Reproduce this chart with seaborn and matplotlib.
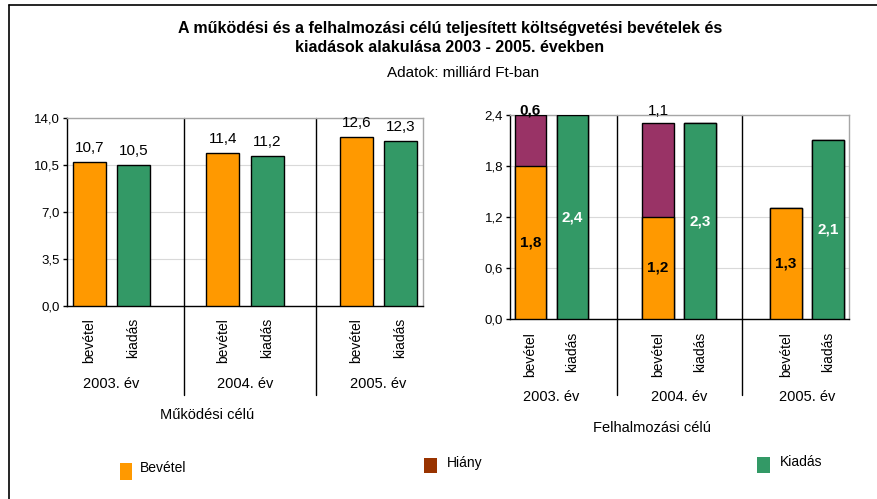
import matplotlib
matplotlib.use("Agg")
import matplotlib.pyplot as plt
import matplotlib.transforms as mtransforms
from matplotlib.patches import Rectangle
from matplotlib.lines import Line2D
import pandas as pd
import seaborn as sns

# ── Data ───────────────────────────────────────────────────────────────────────
YEARS = ["2003. év", "2004. év", "2005. év"]
TYPES = ["bevétel", "kiadás"]

MUK_BEVETEL = [10.7, 11.4, 12.6]
MUK_KIADAS  = [10.5, 11.2, 12.3]

FEL_BEVETEL = [1.8, 1.2, 1.3]
FEL_HIANY   = [0.6, 1.1, 0.0]
FEL_KIADAS  = [2.4, 2.3, 2.1]

LEFT_TICKS  = [0.0, 3.5, 7.0, 10.5, 14.0]
RIGHT_TICKS = [0.0, 0.6, 1.2, 1.8, 2.4]

TITLE    = ("A működési és a felhalmozási célú teljesített költségvetési bevételek és\n"
            "kiadások alakulása 2003 - 2005. években")
SUBTITLE = "Adatok: milliárd Ft-ban"

# ── Style ──────────────────────────────────────────────────────────────────────
ORANGE = "#FF9900"
GREEN  = "#339966"
PURPLE = "#993366"
BROWN  = "#993300"
GRID   = "#D9D9D9"
FRAME  = "#A6A6A6"
W, H   = 878, 499

sns.set_theme(style="white")
plt.rcParams.update({
    "font.family": ["Liberation Sans", "DejaVu Sans"],
    "text.color": "black",
    "axes.labelcolor": "black",
    "xtick.color": "black",
    "ytick.color": "black",
})


def fmt(v):
    return f"{v:.1f}".replace(".", ",")


def long_df(bev, kiad):
    return pd.DataFrame({
        "ev": YEARS * 2,
        "tipus": [TYPES[0]] * len(bev) + [TYPES[1]] * len(kiad),
        "ertek": list(bev) + list(kiad),
    })


def draw_bars(ax, df, palette):
    sns.barplot(data=df, x="ev", y="ertek", hue="tipus", order=YEARS,
                hue_order=TYPES, palette=palette, saturation=1,
                width=0.66, gap=0.25, edgecolor="black", linewidth=1,
                errorbar=None, legend=False, ax=ax, zorder=3)


def centers(container):
    return [p.get_x() + p.get_width() / 2 for p in container]


def style_axes(ax, ticks, xlim, seps, sep_bottom, year_y, pad):
    blend = mtransforms.blended_transform_factory(ax.transData, ax.transAxes)
    ax.set_xlim(*xlim)
    ax.set_ylim(ticks[0], ticks[-1])
    ax.set_yticks(ticks)
    ax.set_yticklabels([fmt(t) for t in ticks], fontsize=9.5)
    ax.yaxis.grid(True, color=GRID, linewidth=0.8)
    ax.set_axisbelow(True)
    for s in ["top", "right"]:
        ax.spines[s].set_color(FRAME)
        ax.spines[s].set_linewidth(1)
    for s in ["left", "bottom"]:
        ax.spines[s].set_color("black")
        ax.spines[s].set_linewidth(1)
    ax.tick_params(axis="y", left=True, length=3, width=1, direction="out", pad=2)
    ax.set_xlabel("")
    ax.set_ylabel("")

    bev_x = centers(ax.containers[-2])
    kia_x = centers(ax.containers[-1])
    pos, labs = [], []
    for b, k in zip(bev_x, kia_x):
        pos += [b, k]
        labs += TYPES
    ax.set_xticks(pos)
    ax.set_xticklabels(labs, rotation=90, fontsize=10)
    ax.tick_params(axis="x", bottom=False, length=0, pad=pad)

    for i, yr in enumerate(YEARS):
        ax.text(i, year_y, yr, transform=blend, ha="center", va="center",
                fontsize=10.5)
    for x in seps:
        ax.plot([x, x], [1, sep_bottom], transform=blend, color="black",
                linewidth=1, clip_on=False)
    return bev_x, kia_x


fig = plt.figure(figsize=(W / 100, H / 100), dpi=100)
fig.patch.set_facecolor("white")

# ── Left: működési célú ────────────────────────────────────────────────────────
ax1 = fig.add_axes([67 / W, 1 - 306 / H, 356 / W, 188 / H])
draw_bars(ax1, long_df(MUK_BEVETEL, MUK_KIADAS), [ORANGE, GREEN])
bx, kx = style_axes(ax1, LEFT_TICKS, (-0.333, 2.333), [0.545, 1.53],
                    -0.473, -0.415, 8.6)
for x, v in zip(bx + kx, MUK_BEVETEL + MUK_KIADAS):
    ax1.annotate(fmt(v), (x, v), xytext=(0, 5), textcoords="offset points",
                 ha="center", va="bottom", fontsize=11)

# ── Right: felhalmozási célú (stacked bevétel + hiány) ────────────────────────
ax2 = fig.add_axes([510 / W, 1 - 319 / H, 339 / W, 204 / H])
stack_top = [b + h for b, h in zip(FEL_BEVETEL, FEL_HIANY)]
draw_bars(ax2, long_df(stack_top, FEL_KIADAS), [PURPLE, GREEN])
draw_bars(ax2, long_df(FEL_BEVETEL, FEL_KIADAS), [ORANGE, GREEN])
bx, kx = style_axes(ax2, RIGHT_TICKS, (-0.325, 2.33), [0.51, 1.49],
                    -0.373, -0.382, 9.4)
for x, v in zip(bx, FEL_BEVETEL):
    ax2.text(x, v / 2, fmt(v), ha="center", va="center", fontsize=11,
             fontweight="bold", color="black", zorder=5)
for x, v in zip(kx, FEL_KIADAS):
    ax2.text(x, v / 2, fmt(v), ha="center", va="center", fontsize=11,
             fontweight="bold", color="white", zorder=5)
blend2 = mtransforms.blended_transform_factory(ax2.transData, ax2.transAxes)
hiany_weight = ["bold", "normal", "normal"]
for x, v, wt in zip(bx, FEL_HIANY, hiany_weight):
    if v > 0:
        ax2.text(x, 1.02, fmt(v), transform=blend2, ha="center", va="center",
                 fontsize=11, fontweight=wt)

# ── Titles & axis captions ────────────────────────────────────────────────────
fig.text(450 / W, 1 - 38 / H, TITLE, ha="center", va="center", fontsize=11.5,
         fontweight="bold", linespacing=1.3)
fig.text(463 / W, 1 - 73 / H, SUBTITLE, ha="center", va="center", fontsize=11)
fig.text(207.5 / W, 1 - 415 / H, "Működési célú", ha="center", va="center",
         fontsize=10.5)
fig.text(651.7 / W, 1 - 428 / H, "Felhalmozási célú", ha="center", va="center",
         fontsize=10.5)

# ── Legend ────────────────────────────────────────────────────────────────────
legend_items = [
    ("Bevétel", ORANGE, (120, 463, 12, 17), (140, 467.7)),
    ("Hiány", BROWN, (424, 458, 13, 15), (447, 462.7)),
    ("Kiadás", GREEN, (757, 457, 13, 16), (780, 462)),
]
for label, color, (x0, y0, w, h), (tx, ty) in legend_items:
    fig.add_artist(Rectangle((x0 / W, 1 - (y0 + h) / H), w / W, h / H,
                             transform=fig.transFigure, facecolor=color,
                             edgecolor="none"))
    fig.text(tx / W, 1 - ty / H, label, ha="left", va="center", fontsize=10)

# ── Chart frame (cut off at right and bottom) ─────────────────────────────────
fig.add_artist(Line2D([9 / W, 9 / W], [0, 1 - 5 / H], transform=fig.transFigure,
                      color="black", linewidth=1.2))
fig.add_artist(Line2D([9 / W, 1], [1 - 5 / H, 1 - 5 / H], transform=fig.transFigure,
                      color="black", linewidth=1.2))

fig.savefig("out.png", dpi=100, facecolor="white")
